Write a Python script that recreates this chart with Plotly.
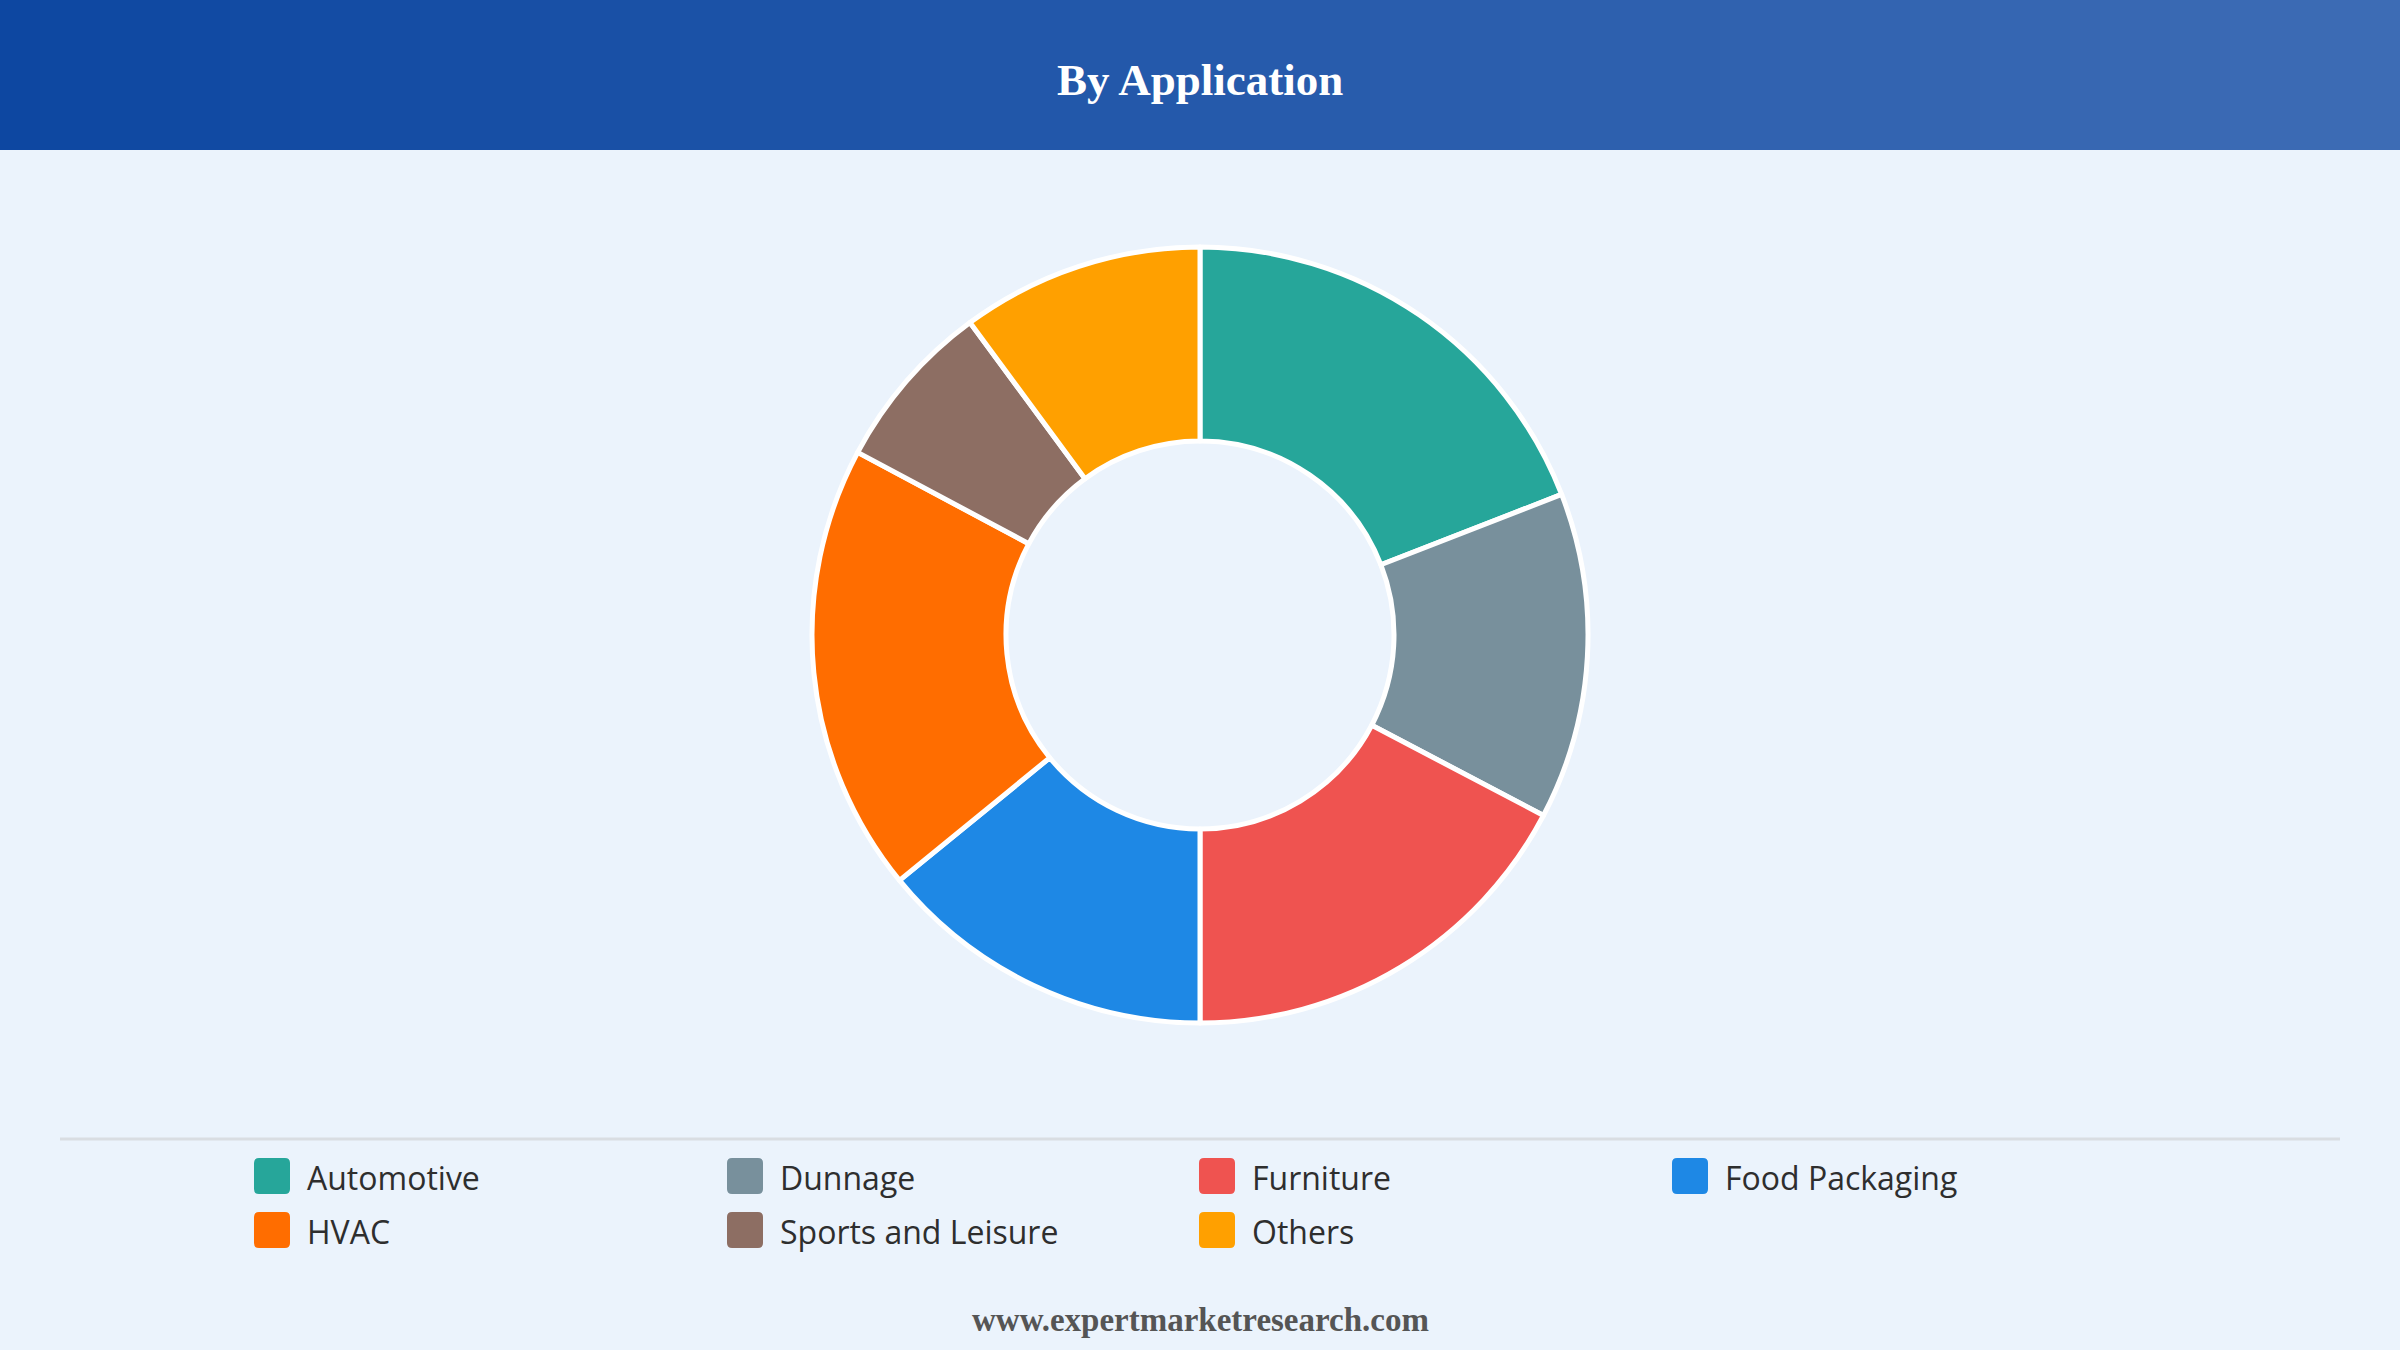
import plotly.graph_objects as go

# ---- data ----
categories = ["Automotive", "Dunnage", "Furniture", "Food Packaging", "HVAC", "Sports and Leisure", "Others"]
values = [19.1, 13.6, 17.3, 14.1, 18.7, 7.1, 10.1]
colors = ["#26A69A", "#78909C", "#EF5350", "#1E88E5", "#FF6D00", "#8D6E63", "#FFA000"]
title_text = "By Application"
footer_text = "www.expertmarketresearch.com"

W, H = 2400, 1350


def px(x):
    return x / W


def py(y):
    return 1 - y / H


cx, cy, R = 1200, 635, 388

fig = go.Figure(
    go.Pie(
        labels=categories,
        values=values,
        hole=0.5,
        sort=False,
        direction="clockwise",
        rotation=0,
        marker=dict(colors=colors, line=dict(color="white", width=5)),
        textinfo="none",
        hoverinfo="label+percent",
        showlegend=False,
        domain=dict(x=[px(cx - R - 200), px(cx + R + 200)], y=[py(cy + R), py(cy - R)]),
    )
)

shapes = []
# header gradient band
left = (13, 71, 161)
right = (61, 108, 181)
N = 240
header_h = 150
for i in range(N):
    t = i / (N - 1)
    c = tuple(round(left[k] + (right[k] - left[k]) * t) for k in range(3))
    x0 = W * i / N
    x1 = W * (i + 1) / N + 1
    shapes.append(dict(type="rect", xref="paper", yref="paper",
                       x0=px(x0), x1=px(min(x1, W)), y0=py(header_h), y1=1,
                       fillcolor="rgb(%d,%d,%d)" % c, line=dict(width=0), layer="below"))

# separator line
shapes.append(dict(type="line", xref="paper", yref="paper",
                   x0=px(60), x1=px(2340), y0=py(1139), y1=py(1139),
                   line=dict(color="#D9DDE2", width=3)))

annotations = []
col_x = [254, 727, 1199, 1672]
row_y = [1176, 1230]
sq = 36
rr = 5
for i, (cat, col) in enumerate(zip(categories, colors)):
    r, c = divmod(i, 4)
    x0 = col_x[c]
    yc = row_y[r]
    y0 = yc - sq / 2
    x1 = x0 + sq
    y1 = yc + sq / 2
    # rounded square path in paper coords
    pts = [
        ("M", x0 + rr, y0), ("L", x1 - rr, y0), ("Q", x1, y0, x1, y0 + rr),
        ("L", x1, y1 - rr), ("Q", x1, y1, x1 - rr, y1), ("L", x0 + rr, y1),
        ("Q", x0, y1, x0, y1 - rr), ("L", x0, y0 + rr), ("Q", x0, y0, x0 + rr, y0),
    ]
    path = ""
    for p in pts:
        cmd = p[0]
        coords = p[1:]
        s = []
        for j in range(0, len(coords), 2):
            s.append("%.6f,%.6f" % (px(coords[j]), py(coords[j + 1])))
        path += cmd + " ".join(s) + " "
    path += "Z"
    shapes.append(dict(type="path", xref="paper", yref="paper", path=path,
                       fillcolor=col, line=dict(width=0)))
    annotations.append(dict(text=cat, xref="paper", yref="paper",
                            x=px(x1 + 15), y=py(yc + 1), xanchor="left", yanchor="middle",
                            showarrow=False,
                            font=dict(family="Open Sans, Noto Sans, sans-serif", size=32, color="#2E2E2E")))

annotations.append(dict(text="<b>%s</b>" % title_text, xref="paper", yref="paper",
                        x=0.5, y=py(80), xanchor="center", yanchor="middle", showarrow=False,
                        font=dict(family="Liberation Serif, Times New Roman, serif", size=45, color="white")))
annotations.append(dict(text="<b>%s</b>" % footer_text, xref="paper", yref="paper",
                        x=0.5, y=py(1320), xanchor="center", yanchor="middle", showarrow=False,
                        font=dict(family="Liberation Serif, Times New Roman, serif", size=33, color="#555555")))

fig.update_layout(
    width=W, height=H,
    margin=dict(l=0, r=0, t=0, b=0),
    paper_bgcolor="#EBF3FC",
    plot_bgcolor="#EBF3FC",
    shapes=shapes,
    annotations=annotations,
    showlegend=False,
)

fig.write_html("out.html", config={"displayModeBar": False},
               post_script="document.body.style.margin='0';document.body.style.overflow='hidden';")
